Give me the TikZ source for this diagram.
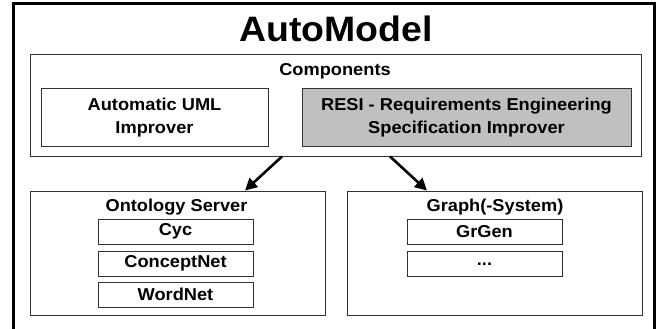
\documentclass[tikz,border=0pt]{standalone}
\usepackage{fontspec}
\setmainfont{Liberation Sans}[FakeStretch=1.06]
\usetikzlibrary{arrows.meta}
\definecolor{resigray}{HTML}{C0C0C0}
\definecolor{edge}{HTML}{333333}
\tikzset{
  boxtext/.style={font=\fontsize{17.2}{23}\selectfont\bfseries, align=center, text=black},
  panel/.style={draw=edge, line width=1pt, fill=white, inner sep=0pt, anchor=center},
  item/.style={panel, boxtext},
  label/.style={boxtext, inner sep=0pt, anchor=center},
  arr/.style={line width=2.6pt, -{Triangle[length=12pt,width=12pt]}}
}
\begin{document}
\begin{tikzpicture}[x=1pt,y=-1pt]
\useasboundingbox (0,0) rectangle (659,329);
\fill[white] (0,0) rectangle (659,329);
% outer frame (bottom edge lies outside the visible area)
\draw[line width=3pt] (13,335) -- (13,4) -- (654,4) -- (654,335);
\node[inner sep=0pt, anchor=base, font=\fontsize{35.3}{40}\selectfont\bfseries] (title) at (336,42) {AutoModel};

% Components
\node[panel, minimum width=611pt, minimum height=101pt] (comp) at (335.5,105.5) {};
\node[label] (comptitle) at (335,71) {Components};
\node[item, minimum width=227pt, minimum height=57pt] (auml) at (154.5,117.5) {Automatic UML\\Improver};
\node[item, fill=resigray, minimum width=329pt, minimum height=57pt] (resi) at (466.5,117.5) {RESI - Requirements Engineering\\Specification Improver};

% Ontology Server
\node[panel, minimum width=295pt, minimum height=124pt] (ont) at (177.5,253) {};
\node[label] (onttitle) at (176.5,207) {Ontology Server};
\node[item, minimum width=155pt, minimum height=25pt] (cyc) at (175.5,231.5) {Cyc};
\node[item, minimum width=155pt, minimum height=25pt] (cnet) at (175.5,263.5) {ConceptNet};
\node[item, minimum width=155pt, minimum height=25pt] (wnet) at (175.5,294.5) {WordNet};

% Graph(-System)
\node[panel, minimum width=295pt, minimum height=124pt] (graph) at (494.5,253) {};
\node[label] (graphtitle) at (495,207) {Graph(-System)};
\node[item, minimum width=155pt, minimum height=25pt] (grgen) at (484.5,231.5) {GrGen};
\node[item, minimum width=155pt, minimum height=25pt] (dots) at (484.5,264) {...};

% arrows
\coordinate (a1s) at (comp.south -| 282,0);
\coordinate (a1e) at (ont.north -| 245,0);
\coordinate (a2s) at (comp.south -| 390,0);
\coordinate (a2e) at (graph.north -| 427,0);
\draw[arr] (a1s) -- (a1e);
\draw[arr] (a2s) -- (a2e);
\end{tikzpicture}
\end{document}
